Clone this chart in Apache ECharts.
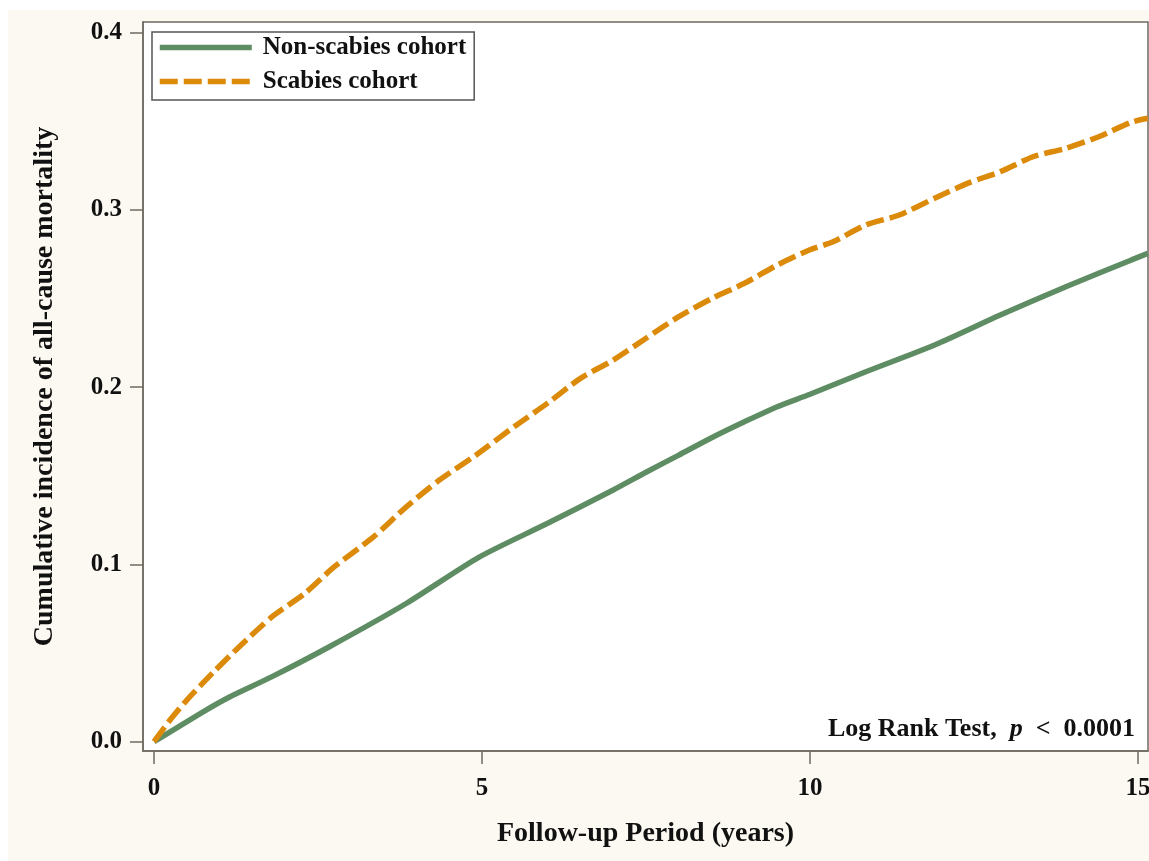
<!DOCTYPE html>
<html>
<head>
<meta charset="utf-8">
<script src="https://cdn.jsdelivr.net/npm/echarts@6/dist/echarts.min.js"></script>
<style>
html,body{margin:0;padding:0;background:#ffffff;overflow:hidden;}
#chart{width:1149px;height:861px;}
</style>
</head>
<body>
<div id="chart"></div>
<script>
// ---- data ----
const seriesNames = ['Non-scabies cohort', 'Scabies cohort'];
const nonScabiesYears  = [0, 0.8, 1.16, 1.8, 2.68, 3.85, 4.95, 6.0, 7.0, 7.5, 8.0, 8.5, 9.0, 9.5, 10.0, 10.85, 11.9, 12.9, 13.9, 14.9, 15.15];
const nonScabiesValues = [0, 0.018, 0.0254, 0.0367, 0.0537, 0.0781, 0.104, 0.1232, 0.142, 0.152, 0.1617, 0.1715, 0.1805, 0.189, 0.196, 0.2087, 0.2238, 0.2407, 0.2567, 0.2718, 0.2755];
const scabiesYears  = [0, 0.25, 0.5, 0.9, 1.3, 1.8, 2.3, 2.75, 3.35, 3.85, 4.35, 4.9, 5.5, 6.0, 6.5, 7.0, 7.5, 8.0, 8.5, 9.0, 9.5, 10.0, 10.35, 10.85, 11.35, 11.9, 12.4, 12.9, 13.4, 13.9, 14.4, 14.9, 15.15];
const scabiesValues = [0, 0.0125, 0.0235, 0.039, 0.0536, 0.0705, 0.0837, 0.0987, 0.1157, 0.1326, 0.1476, 0.1615, 0.178, 0.191, 0.205, 0.2153, 0.2276, 0.2398, 0.25, 0.2586, 0.2689, 0.2775, 0.282, 0.2915, 0.297, 0.3066, 0.315, 0.3216, 0.33, 0.3348, 0.3413, 0.3495, 0.3517];
const xTickValues = [0, 5, 10, 15];
const yTickValues = [0, 0.1, 0.2, 0.3, 0.4];
const xAxisTitle = 'Follow-up Period (years)';
const yAxisTitle = 'Cumulative incidence of all-cause mortality';
const annotation = ['Log Rank Test,  ', 'p', '  <  0.0001'];

// ---- chart ----
const FONT = '"Liberation Serif", "Times New Roman", serif';
const AXIS_COLOR = '#6f6a60';
const GREEN = '#5f8d63';
const ORANGE = '#db8a0a';

const pairs = (xs, ys) => xs.map((x, i) => [x, ys[i]]);

const chart = echarts.init(document.getElementById('chart'), null, {renderer: 'canvas'});
chart.setOption({
  animation: false,
  backgroundColor: '#ffffff',
  graphic: [
    {type: 'rect', z: -10, silent: true, shape: {x: 8, y: 10, width: 1200, height: 900}, style: {fill: '#fcf9f2'}},
    {
      type: 'text', right: 14, top: 716, z: 50,
      style: {
        text: '{b|' + annotation[0] + '}{i|' + annotation[1] + '}{b|' + annotation[2] + '}',
        rich: {
          b: {fontFamily: FONT, fontWeight: 'bold', fontSize: 26, fill: '#111'},
          i: {fontFamily: FONT, fontWeight: 'bold', fontStyle: 'italic', fontSize: 26, fill: '#111'}
        }
      }
    }
  ],
  grid: {
    left: 143, top: 22, right: 1, bottom: 110,
    outerBoundsMode: 'none', containLabel: false,
    show: true, backgroundColor: '#ffffff', borderColor: AXIS_COLOR, borderWidth: 1.5
  },
  legend: {
    orient: 'vertical', left: 152, top: 32,
    data: seriesNames,
    itemWidth: 92, itemHeight: 22, itemGap: 9,
    padding: [3, 8, 6, 5],
    backgroundColor: '#ffffff', borderColor: '#555', borderWidth: 1.5,
    itemStyle: {opacity: 0},
    lineStyle: {width: 5.5},
    textStyle: {fontFamily: FONT, fontWeight: 'bold', fontSize: 25, color: '#111', padding: [0, 0, 0, 6]}
  },
  xAxis: {
    type: 'value', min: -0.168, max: 15.152,
    name: xAxisTitle, nameLocation: 'middle', nameGap: 69,
    nameTextStyle: {fontFamily: FONT, fontWeight: 'bold', fontSize: 28, color: '#111'},
    axisLine: {show: true, onZero: false, lineStyle: {color: AXIS_COLOR, width: 1.5}},
    axisTick: {show: true, length: 13, lineStyle: {color: AXIS_COLOR, width: 1.5}, customValues: xTickValues},
    axisLabel: {margin: 25, fontFamily: FONT, fontWeight: 'bold', fontSize: 25, color: '#111', customValues: xTickValues},
    splitLine: {show: false}
  },
  yAxis: {
    type: 'value', min: -0.00525, max: 0.40603,
    name: yAxisTitle, nameLocation: 'middle', nameGap: 84,
    nameTextStyle: {fontFamily: FONT, fontWeight: 'bold', fontSize: 28, color: '#111'},
    axisLine: {show: true, onZero: false, lineStyle: {color: AXIS_COLOR, width: 1.5}},
    axisTick: {show: true, length: 13, lineStyle: {color: AXIS_COLOR, width: 1.5}, customValues: yTickValues},
    axisLabel: {margin: 21, fontFamily: FONT, fontWeight: 'bold', fontSize: 25, color: '#111', customValues: yTickValues,
      formatter: v => v.toFixed(1)},
    splitLine: {show: false}
  },
  series: [
    {
      name: seriesNames[0], type: 'line', symbol: 'none', showSymbol: false,
      smooth: 0.25,
      data: pairs(nonScabiesYears, nonScabiesValues),
      lineStyle: {color: GREEN, width: 5.5},
      itemStyle: {color: GREEN}
    },
    {
      name: seriesNames[1], type: 'line', symbol: 'none', showSymbol: false,
      smooth: 0.25,
      data: pairs(scabiesYears, scabiesValues),
      lineStyle: {color: ORANGE, width: 5.5, type: [18, 6]},
      itemStyle: {color: ORANGE}
    }
  ]
});
</script>
</body>
</html>
